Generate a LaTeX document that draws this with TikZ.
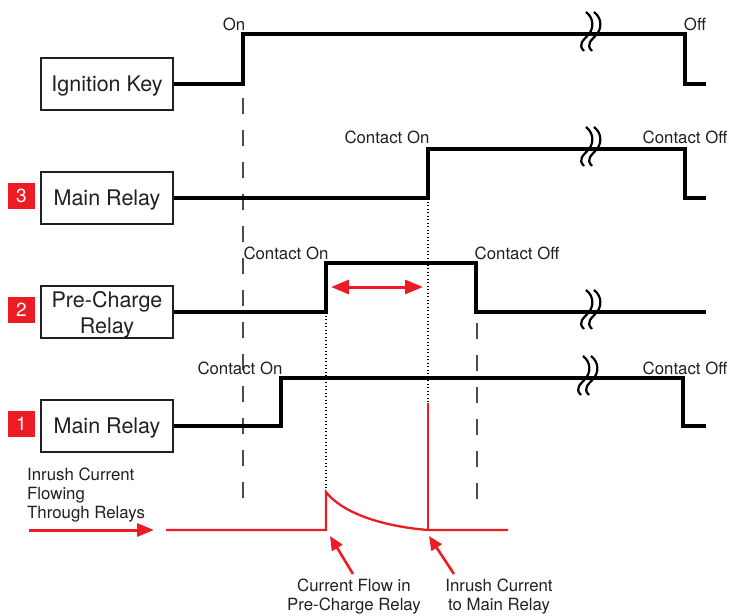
\documentclass[tikz,border=0pt]{standalone}
\usepackage{fontspec}
\setmainfont{TeX Gyre Heros}
\usetikzlibrary{arrows.meta}
\definecolor{ink}{HTML}{231F20}
\definecolor{relred}{HTML}{ED1C24}
\tikzset{
  relaybox/.style={draw=ink,line width=2.6pt,minimum width=132pt,minimum height=52pt,inner sep=0pt,
    align=center,text depth=0pt,text=ink,font=\fontsize{21.5}{26}\selectfont},
  numbox/.style={fill=relred,minimum width=27pt,minimum height=26pt,inner sep=0pt,text depth=0pt,
    text=white,font=\fontsize{19}{19}\selectfont},
  wave/.style={black,line width=3.2pt},
  tag/.style={inner sep=0pt,anchor=base,text=ink,font=\fontsize{16.8}{19}\selectfont},
  guide/.style={gray!60!black,line width=1.1pt,dash pattern=on 16pt off 16pt},
  dots/.style={black,line width=1.3pt,dash pattern=on 1.3pt off 2.2pt},
  redline/.style={relred,line width=2.3pt},
  redarrow/.style={relred,line width=3pt,-{Triangle[length=17pt,width=13pt]}},
}
\newcommand{\brk}[2]{\foreach \dx in {0,8}
  \draw[line width=2.2pt,shift={(#1+\dx,#2)}] (-3,-22) .. controls (6,-15) and (4,-5) .. (0,0)
    .. controls (-5,6) and (-12,10) .. (-5,17);}
\begin{document}
\begin{tikzpicture}[x=1pt,y=-1pt]
  \useasboundingbox (0,0) rectangle (729,616);
  % boxes and numbers
  \node[relaybox] (ign) at (107,84) {Ignition Key};
  \node[relaybox] (mainb) at (107,198) {Main Relay};
  \node[relaybox] (pre) at (107,312) {Pre-Charge\\Relay};
  \node[relaybox] (maina) at (107,426) {Main Relay};
  \node[numbox] (n3) at (21.5,196) {3};
  \node[numbox] (n2) at (21.5,310) {2};
  \node[numbox] (n1) at (21.5,424) {1};
  % guide lines
  \draw[guide] (243,98) -- (243,499);
  \draw[guide] (477,323) -- (477,499);
  \draw[dots] (428,198) -- (428,403);
  \draw[dots] (326,312) -- (326,492);
  % waveforms
  \draw[wave] (ign.east) -| (243,34) -- (685,34) |- (706,84);
  \draw[wave] (mainb.east) -| (428,149) -- (685,149) |- (706,198);
  \draw[wave] (pre.east) -| (326,263) -- (476,263) |- (706,312);
  \draw[wave] (maina.east) -| (281,378) -- (683,378) |- (706,426);
  \brk{589}{34} \brk{589}{149} \brk{589}{312} \brk{586}{378}
  % labels
  \node[tag] (kon) at (234,30) {On};
  \node[tag] (koff) at (695,30) {Off};
  \node[tag] (mbon) at (387,143) {Contact On};
  \node[tag] (mboff) at (685,143) {Contact Off};
  \node[tag] (pon) at (286,259) {Contact On};
  \node[tag] (poff) at (517,259) {Contact Off};
  \node[tag] (maon) at (240,374) {Contact On};
  \node[tag] (maoff) at (685,374) {Contact Off};
  \draw[relred,line width=3pt,{Triangle[length=18pt,width=14pt]}-{Triangle[length=18pt,width=14pt]}]
    (331,287) -- (423,287);
  % current
  \node[tag,anchor=base west,align=left] (inrush) at (27,518) {Inrush Current\\Flowing\\Through Relays};
  \draw[redarrow] (29,530) -- (154,530);
  \draw[redline] (166,530) -- (326,530) -- (326,492) .. controls (345,516) and (390,527) .. (428,530) -- (508,530);
  \draw[redline] (428,530) -- (428,403);
  \node[tag,align=center] (flow) at (354,610) {Current Flow in\\Pre-Charge Relay};
  \node[tag,align=center] (rush) at (499,610) {Inrush Current\\to Main Relay};
  \draw[redarrow,line width=2.6pt,-{Triangle[length=14pt,width=12pt]}] (353,574) -- (330,536);
  \draw[redarrow,line width=2.6pt,-{Triangle[length=14pt,width=12pt]}] (454,574) -- (429,536);
\end{tikzpicture}
\end{document}
